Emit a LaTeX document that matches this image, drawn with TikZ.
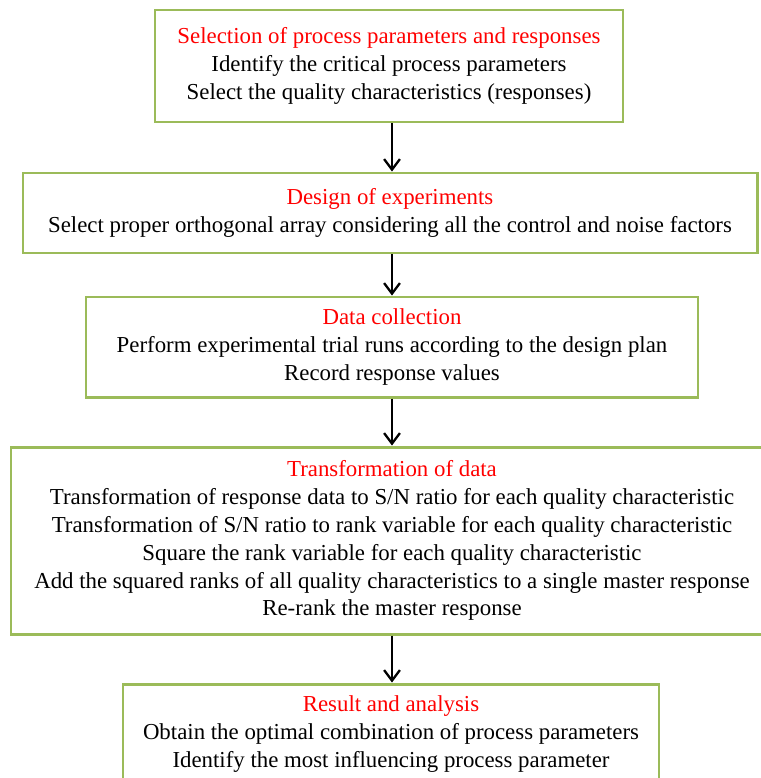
\documentclass[tikz,border=0pt]{standalone}
\usepackage{xcolor}
\usepackage{fontspec}
\setmainfont{Liberation Serif}
\usepackage{tikz}
\usetikzlibrary{arrows.meta, positioning}
\definecolor{frame}{RGB}{155,187,89}
\definecolor{heading}{RGB}{255,0,0}
\newcommand{\px}{0.02cm}
\tikzset{
    box/.style={rectangle, draw=frame, line width=1.7pt, fill=white, text centered, align=center, inner sep=0pt, font=\fontsize{13}{15.9}\selectfont},
    flow/.style={-{Straight Barb[length=6pt, width=9pt]}, line width=1.3pt, black}
}

\begin{document}
\begin{tikzpicture}[x=0.02cm, y=-0.02cm]
    \clip (0,0) rectangle (761,778);
    \fill[white] (0,0) rectangle (761,778);

    % Steps
    \node[box, minimum width=468*\px, minimum height=112*\px] (select) at (389,66)
        {\textcolor{heading}{Selection of process parameters and responses}\\Identify the critical process parameters\\Select the quality characteristics (responses)};
    \node[box, minimum width=734*\px, minimum height=80*\px] (doe) at (390,213)
        {\textcolor{heading}{Design of experiments}\\Select proper orthogonal array considering all the control and noise factors};
    \node[box, minimum width=612*\px, minimum height=100*\px] (collect) at (392,347)
        {\textcolor{heading}{Data collection}\\Perform experimental trial runs according to the design plan\\Record response values};
    \node[box, minimum width=762*\px, minimum height=187*\px] (transform) at (392,540.5)
        {\textcolor{heading}{Transformation of data}\\Transformation of response data to S/N ratio for each quality characteristic\\Transformation of S/N ratio to rank variable for each quality characteristic\\Square the rank variable for each quality characteristic\\Add the squared ranks of all quality characteristics to a single master response\\Re-rank the master response};
    \node[box, minimum width=536*\px, minimum height=100*\px] (result) at (391,734)
        {\textcolor{heading}{Result and analysis}\\Obtain the optimal combination of process parameters\\Identify the most influencing process parameter};

    % Arrows
    \coordinate (axis) at (392,0);
    \draw[flow] (select.south -| axis) -- (doe.north -| axis);
    \draw[flow] (doe.south -| axis) -- (collect.north -| axis);
    \draw[flow] (collect.south -| axis) -- (transform.north -| axis);
    \draw[flow] (transform.south -| axis) -- (result.north -| axis);
\end{tikzpicture}
\end{document}
